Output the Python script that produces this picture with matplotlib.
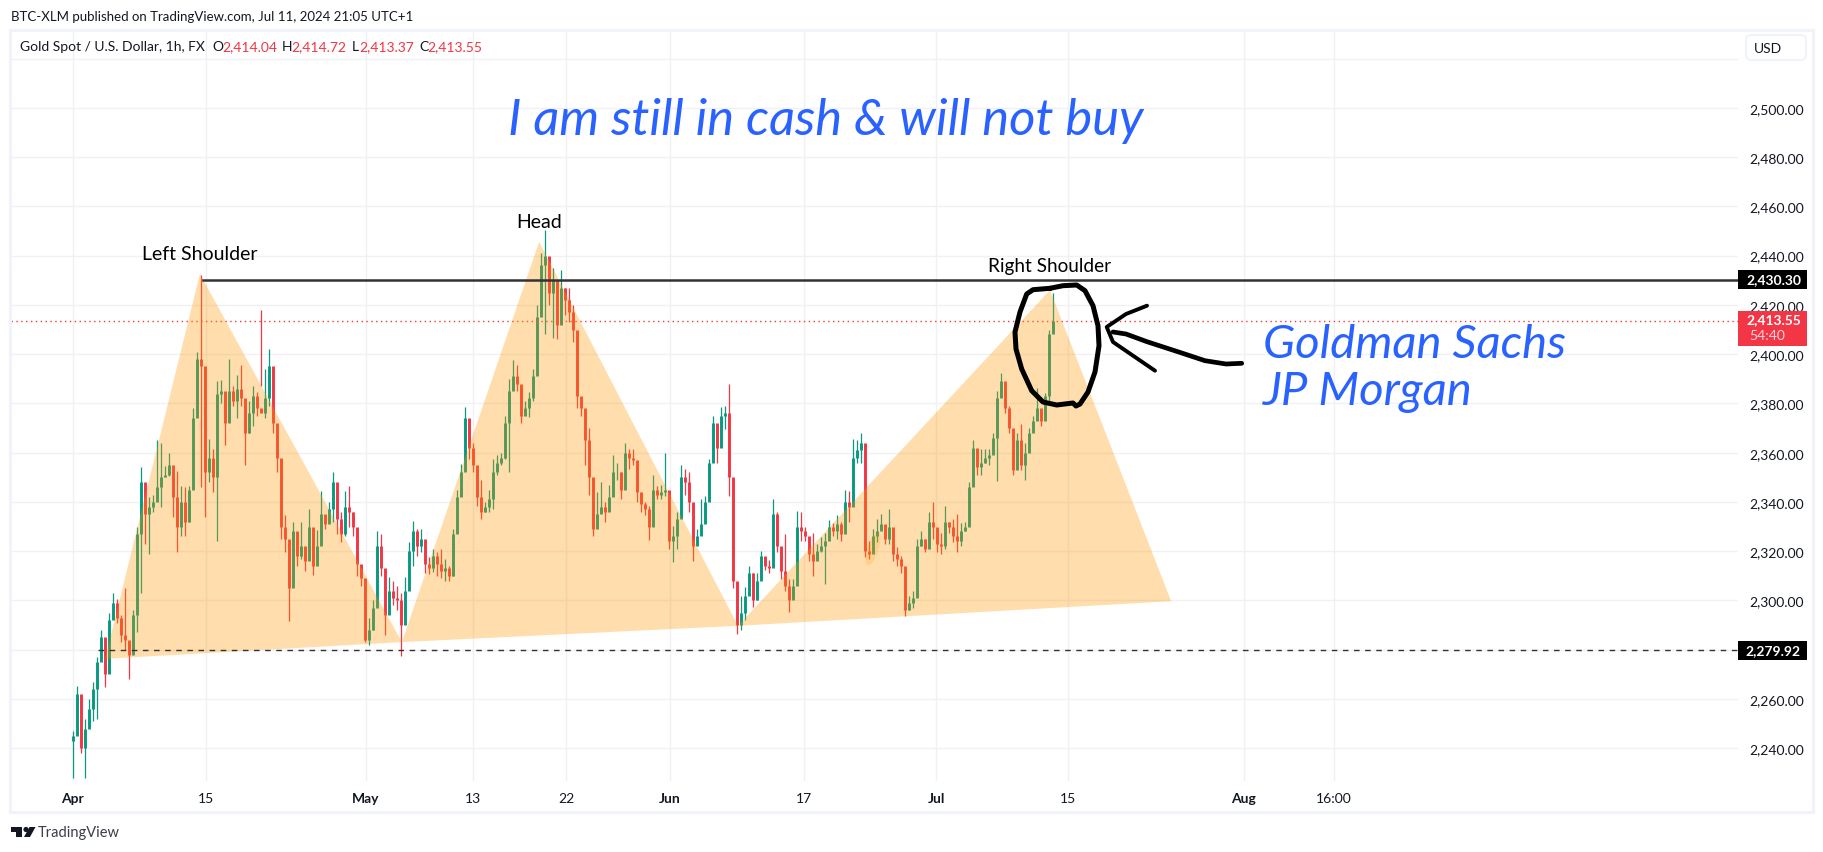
import matplotlib
matplotlib.use("Agg")
import matplotlib.pyplot as plt
from matplotlib.patches import Polygon, Rectangle, FancyBboxPatch, Circle, Ellipse

plt.rcParams['font.family'] = ['Lato', 'DejaVu Sans']

# hourly-ish bars, one every 4 px
highs = [
    2247, 2265.4, 2258, 2252, 2260, 2267, 2277, 2288, 2281.6, 2295,
    2303, 2300.5, 2294, 2305, 2281.6, 2296, 2330, 2354, 2343, 2342,
    2343, 2365, 2364, 2354.6, 2360, 2350.5, 2352.5, 2346.5, 2346, 2346.5,
    2378, 2401, 2432, 2373, 2365.7, 2361.6, 2389, 2389.4, 2374, 2398,
    2387, 2391.5, 2395.5, 2376.5, 2381, 2387, 2384.7, 2418, 2394, 2402,
    2387, 2364, 2344, 2334.5, 2315, 2331.7, 2325, 2331.7, 2319.5, 2337,
    2320, 2328.5, 2344.5, 2333, 2340, 2352, 2340, 2336, 2344.5, 2346.6,
    2336, 2325, 2314, 2300, 2293, 2300, 2328, 2327, 2309, 2309.5,
    2308, 2306, 2303, 2309.5, 2323.6, 2332.4, 2329, 2329, 2321.6, 2317.5,
    2321, 2319.5, 2321, 2317, 2314, 2329, 2345, 2355.5, 2378.5, 2372.5,
    2364, 2351, 2349, 2340, 2345, 2357.5, 2359, 2360, 2375, 2390,
    2397.5, 2395.5, 2383, 2381, 2384.7, 2394, 2420, 2441, 2450.5, 2436,
    2435, 2424, 2434, 2427, 2427, 2420, 2395.5, 2382, 2374, 2370,
    2336, 2344, 2348, 2340, 2347, 2359, 2356, 2352, 2364, 2361.6,
    2361.6, 2347, 2342.5, 2340, 2338.5, 2351, 2346.6, 2347, 2360, 2330.4,
    2330.4, 2336, 2355, 2353.5, 2352, 2337, 2329, 2341, 2342.5, 2357.5,
    2375, 2370, 2378.5, 2379, 2388, 2340, 2301.8, 2302, 2305.5, 2314,
    2311, 2311, 2320, 2317, 2316.5, 2341, 2336, 2319.5, 2327, 2308.6,
    2308.6, 2336.4, 2336, 2330, 2323, 2327.5, 2323, 2325.6, 2327.5, 2332.7,
    2331.3, 2334.8, 2332, 2345, 2344.5, 2365.7, 2365, 2368, 2362.6, 2324,
    2329, 2333, 2335, 2327.5, 2337, 2325, 2321.6, 2318, 2308.6, 2302,
    2304, 2325, 2328, 2325, 2336, 2340, 2328, 2327.5, 2338.5, 2332,
    2333, 2335, 2331.3, 2332, 2348, 2365, 2361.6, 2361.6, 2361.6, 2361.6,
    2368, 2385, 2392.5, 2386, 2379, 2358.6, 2368, 2371.5, 2364, 2370,
    2375, 2386.4, 2375, 2384.4, 2410, 2425,
]
lows = [
    2228, 2256, 2238, 2228, 2250.5, 2251, 2252, 2277, 2265, 2272,
    2294, 2291, 2283, 2280, 2268, 2280, 2287, 2303, 2323, 2319,
    2336, 2345, 2338, 2350, 2350.5, 2334, 2319.5, 2326, 2326, 2332,
    2356, 2383, 2346, 2334, 2348, 2344, 2324, 2380, 2363, 2379,
    2379, 2374, 2379, 2355, 2368, 2371, 2375, 2387, 2374, 2379,
    2368, 2352, 2325, 2319.5, 2291.5, 2315.5, 2314, 2317, 2312, 2320.5,
    2310.5, 2319, 2325, 2329, 2335, 2332, 2327, 2323.6, 2326, 2330,
    2326, 2310, 2306, 2283, 2282, 2288, 2308, 2310, 2286, 2299,
    2298, 2296, 2277.5, 2295, 2314, 2314, 2318, 2319.5, 2311, 2310.7,
    2311.4, 2310, 2309, 2308, 2308, 2310, 2333, 2348, 2357.5, 2357.5,
    2352, 2338.5, 2333, 2336, 2336, 2337, 2351, 2355, 2357.5, 2352,
    2386, 2385, 2372, 2376, 2374.5, 2381, 2405, 2416, 2408, 2420,
    2406.5, 2406, 2417, 2416, 2413, 2405, 2378, 2375, 2355, 2343,
    2326, 2332, 2336, 2332, 2337, 2347, 2349, 2341, 2347, 2353.5,
    2355, 2340, 2336, 2334.5, 2324.5, 2340, 2341, 2341, 2342.5, 2321,
    2315.5, 2321, 2338.5, 2343, 2336, 2316, 2325, 2329, 2332, 2352,
    2357.5, 2356, 2368, 2369.5, 2342.5, 2305, 2286.5, 2288, 2292, 2306,
    2297.5, 2300, 2310, 2312.5, 2311, 2316, 2319.5, 2308.6, 2304, 2295.5,
    2302, 2315, 2324.3, 2324, 2316, 2310, 2317, 2319.5, 2306.5, 2326.5,
    2326, 2325, 2324, 2329.4, 2332, 2353.5, 2356, 2356, 2317.5, 2317,
    2319.5, 2323.6, 2329, 2323, 2323, 2316, 2314, 2311, 2293.6, 2296.3,
    2297, 2308.6, 2322, 2319.5, 2322, 2325, 2319.5, 2319, 2321, 2327.5,
    2323.6, 2319.5, 2322, 2328, 2342.5, 2351, 2351, 2351, 2356, 2355,
    2363, 2348.4, 2385, 2376, 2368, 2351, 2358.6, 2353, 2349, 2363,
    2371.5, 2374, 2371, 2373.5, 2380, 2410,
]
closes = [
    2245, 2262, 2240, 2248, 2256, 2264, 2275, 2285, 2270, 2292,
    2299, 2293, 2286, 2284, 2278, 2294, 2327, 2348, 2335, 2338,
    2340, 2346, 2350, 2351, 2355, 2342, 2330, 2340, 2332, 2345,
    2374, 2398, 2395, 2352, 2358, 2350, 2384, 2385, 2372, 2385,
    2381, 2386, 2382, 2368, 2376, 2383, 2378, 2376, 2382, 2395,
    2372, 2358, 2330, 2325, 2305, 2328, 2318, 2322, 2316, 2330,
    2314, 2322, 2335, 2331, 2337, 2348, 2333, 2327, 2338, 2336,
    2330, 2315, 2309, 2284, 2288, 2297, 2322, 2313, 2294, 2304,
    2301, 2300, 2290, 2304, 2320, 2328, 2322, 2325, 2315, 2313,
    2318, 2315, 2312, 2313, 2310, 2327, 2342, 2352, 2374, 2362,
    2355, 2342, 2336, 2338, 2341, 2352, 2356, 2358, 2372, 2385,
    2391, 2388, 2375, 2378, 2382, 2391, 2415, 2436, 2440, 2425,
    2430, 2412, 2427, 2422, 2417, 2410, 2383, 2378, 2365, 2350,
    2329, 2335, 2338, 2336, 2342, 2352, 2352, 2345, 2360, 2358,
    2357, 2344, 2339, 2337, 2330, 2345, 2343, 2344, 2345, 2324,
    2326, 2333, 2350, 2348, 2340, 2322, 2326, 2331, 2340, 2356,
    2372, 2362, 2375, 2376, 2350, 2308, 2290, 2295, 2302, 2311,
    2300, 2308, 2318, 2314, 2313, 2335, 2322, 2312, 2306, 2300,
    2306, 2330, 2328, 2326, 2319, 2316, 2320, 2322, 2324, 2330,
    2328, 2331, 2327, 2340, 2338, 2358, 2361, 2364, 2320, 2319,
    2326, 2328, 2331, 2325, 2330, 2319, 2317, 2314, 2296, 2299,
    2301, 2322, 2325, 2321, 2332, 2330, 2323, 2322, 2332, 2330,
    2326, 2324, 2328, 2330, 2346, 2362, 2354, 2356, 2358, 2359,
    2366, 2382, 2389, 2378, 2370, 2353, 2365, 2355, 2360, 2368,
    2373, 2378, 2373, 2383, 2408, 2413.55,
]

price_ticks = [2240, 2260, 2280, 2300, 2320, 2340, 2360, 2380, 2400, 2420, 2440, 2460, 2480, 2500, 2520]
time_ticks = [0, 33.25, 73.3, 100.1, 123.3, 149.3, 182.8, 215.9, 248.9, 292.7, 315.3]
time_labels = ['Apr', '15', 'May', '13', '22', 'Jun', '17', 'Jul', '15', 'Aug', '16:00']
month_labels = ['Apr', 'May', 'Jun', 'Jul', 'Aug']

# head and shoulders drawing, (bar, price)
hs_left = [(8.1, 2276.3), (31.8, 2432.6), (82.3, 2283.1)]
hs_head = [(82.3, 2283.1), (116.6, 2445.6), (166.3, 2289.7)]
hs_right = [(166.3, 2289.7), (244.3, 2426.0), (274.6, 2299.7)]

resistance = 2430.30
support = 2279.92
last_price = 2413.55

# hand drawn circle and arrow, in pixels of the picture
circle_x = [1050, 1033, 1026.7, 1020, 1015, 1016, 1021.7, 1031.7, 1043, 1056.7, 1073, 1076, 1080, 1088, 1095, 1099, 1098, 1093, 1085, 1076.7, 1063, 1050]
circle_y = [289.3, 290.7, 295, 313, 333, 350, 370, 391.7, 403, 406, 404, 407, 405, 393, 373, 346.7, 326.7, 306.7, 291.7, 286, 286.7, 289.3]
arrow_x = [1241.7, 1226, 1205, 1178.7, 1147, 1126, 1113]
arrow_y = [364.3, 365, 361.7, 353, 342.7, 335, 333]
arrow_head_x = [1147, 1126, 1106.7, 1113, 1155]
arrow_head_y = [306.7, 315, 328, 343, 371.7]

GREEN = '#089981'
RED = '#F23645'
BLUE = '#2962FF'
TEXT = '#131722'
GRID = '#F0F1F4'
W, H = 1824, 853

fig = plt.figure(figsize=(W / 100, H / 100), dpi=100, facecolor='white')
ax = fig.add_axes([11 / W, 1 - 782 / H, (1738 - 11) / W, (782 - 31) / H], zorder=1)
ax.set_xlim(-15.425, 416.3)
ax.set_ylim(2226.7, 2531.6)
for s in ax.spines.values():
    s.set_visible(False)
ax.set_axisbelow(True)
ax.grid(True, color=GRID, lw=1)

ax.yaxis.tick_right()
ax.set_yticks(price_ticks)
ax.set_yticklabels([f'{p:,.2f}' if p != 2520 else '' for p in price_ticks], fontsize=10, color=TEXT)
for lab in ax.get_yticklabels():
    lab.set_va('center_baseline')
ax.set_xticks(time_ticks)
ax.set_xticklabels(time_labels, fontsize=10, color=TEXT)
for lab in ax.get_xticklabels():
    if lab.get_text() in month_labels:
        lab.set_fontweight('bold')
ax.tick_params(axis='both', length=0)
ax.tick_params(axis='y', pad=8)
ax.tick_params(axis='x', pad=8)

xs = list(range(len(closes)))
opens = [closes[0] - 2] + closes[:-1]
colors = [GREEN if c >= o else RED for o, c in zip(opens, closes)]
ax.vlines(xs, lows, highs, colors=colors, lw=0.9, zorder=3)
ax.vlines(xs, opens, closes, colors=colors, lw=2.1, zorder=3)

ax.axhline(last_price, color=RED, lw=1, ls=(0, (1, 2.5)), zorder=4)
ax.plot([32.6, 416.3], [resistance, resistance], color='#333333', lw=1.8, zorder=6)
ax.plot([6.3, 416.3], [support, support], color='#333333', lw=1, ls=(0, (4, 4)), zorder=6)

for tri in (hs_left, hs_head, hs_right):
    ax.add_patch(Polygon(tri, closed=True, fc='#FF9800', ec='none', alpha=0.32, zorder=5))

# everything else sits on a pixel overlay
over = fig.add_axes([0, 0, 1, 1], zorder=2)
over.set_xlim(0, W)
over.set_ylim(H, 0)
over.axis('off')

over.add_patch(Rectangle((10.5, 30.5), 1802.5, 782.5, fc='none', ec='#F0F3FA', lw=2.2))
over.add_patch(FancyBboxPatch((1746, 36), 60, 25, boxstyle='round,pad=0,rounding_size=5',
                              fc='white', ec='#F0F3FA', lw=1.5))
over.text(1754, 49, 'USD', fontsize=10, color=TEXT, va='center')

over.text(11, 17, 'BTC-XLM published on TradingView.com, Jul 11, 2024 21:05 UTC+1',
          fontsize=9.5, color=TEXT, va='center')
over.text(20, 47, 'Gold Spot / U.S. Dollar, 1h, FX', fontsize=10, color=TEXT, va='center')
for lx, label, vx, val in [(212.6, 'O', 222, '2,414.04'), (282, 'H', 291, '2,414.72'),
                           (352, 'L', 359, '2,413.37'), (419, 'C', 427.5, '2,413.55')]:
    over.text(lx, 47, label, fontsize=10, color=TEXT, va='center')
    over.text(vx, 47, val, fontsize=10, color=RED, va='center')

over.text(826, 121, 'I am still in cash & will not buy', fontsize=36.5, style='italic', color=BLUE,
          ha='center', va='center')
over.text(1263, 345, 'Goldman Sachs', fontsize=34, style='italic', color=BLUE, va='center')
over.text(1263, 392, 'JP Morgan', fontsize=34, style='italic', color=BLUE, va='center')

over.text(200, 254, 'Left Shoulder', fontsize=14, color='black', ha='center', va='center')
over.text(539, 222, 'Head', fontsize=14, color='black', ha='center', va='center')
over.text(1050, 266, 'Right Shoulder', fontsize=13.7, color='black', ha='center', va='center')

over.add_patch(Ellipse((873, 550), 11, 34, angle=18, fc='#FF9800', ec='none', alpha=0.18))

over.plot(circle_x, circle_y, color='black', lw=3.6, solid_joinstyle='round', solid_capstyle='round')
over.plot(arrow_x, arrow_y, color='black', lw=3.4, solid_joinstyle='round', solid_capstyle='round')
over.plot(arrow_head_x, arrow_head_y, color='black', lw=2.8, solid_joinstyle='round', solid_capstyle='round')

# price tags
for y0, y1, col in [(271, 290, 'black'), (642, 661, 'black'), (312, 347, RED)]:
    over.add_patch(Rectangle((1738, y0), 69, y1 - y0, fc=col, ec='none'))
over.text(1801, 280, '2,430.30', fontsize=10, color='white', ha='right', va='center', fontweight='bold')
over.text(1801, 651, '2,279.92', fontsize=10, color='white', ha='right', va='center', fontweight='bold')
over.text(1801, 320, '2,413.55', fontsize=10, color='white', ha='right', va='center', fontweight='bold')
over.text(1749, 336, '54:40', fontsize=10, color='#FBD5D9', va='center')

# logo
over.add_patch(Polygon([(11, 828), (22.5, 828), (22.5, 838), (16.5, 838), (16.5, 833), (11, 833)], fc='#131722', ec='none'))
over.add_patch(Circle((26, 830.5), 2.6, fc='#131722', ec='none'))
over.add_patch(Polygon([(29.5, 828), (35.5, 828), (30, 838), (24, 838)], fc='#131722', ec='none'))
over.text(38, 833, 'TradingView', fontsize=10.5, color='#3a3e4a', va='center')

fig.savefig('out.png', dpi=100)
